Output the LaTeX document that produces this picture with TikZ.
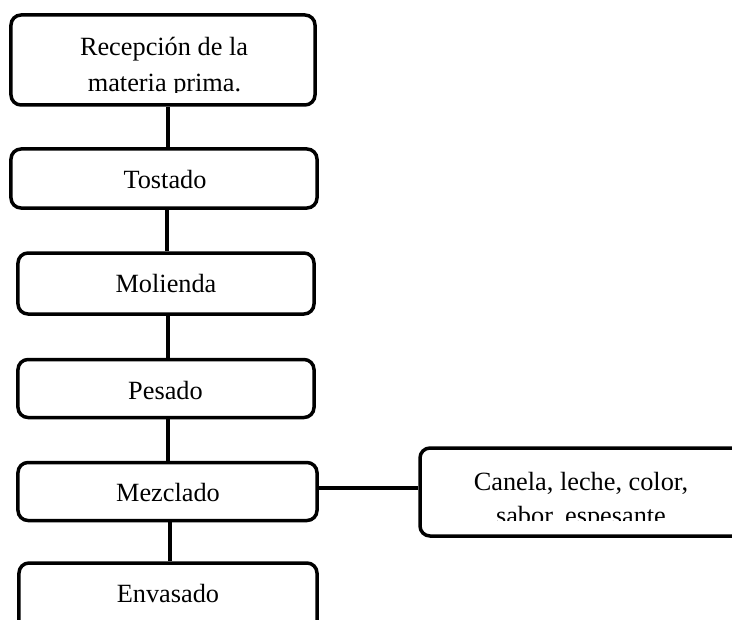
\documentclass[tikz,border=0pt]{standalone}
\usepackage{fontspec}
\setmainfont{Liberation Serif}
\begin{document}
\begin{tikzpicture}[x=1bp,y=-1bp,
  box/.style={draw=black,line width=3.5bp,rounded corners=10bp,inner sep=0pt,fill=white,
    font=\fontsize{26.3bp}{30bp}\selectfont},
  txt/.style={inner sep=0pt,anchor=base,font=\fontsize{26.3bp}{30bp}\selectfont},
  link/.style={draw=black,line width=3.5bp}]
\clip (0,0) rectangle (732,620);
\useasboundingbox (0,0) rectangle (732,620);
\coordinate (c1) at (168,0);
\coordinate (c2) at (167,0);
\coordinate (c3) at (168,0);
\coordinate (c4) at (168,0);
\coordinate (c5) at (170,0);
% boxes
\node[box,minimum width=304bp,minimum height=90bp] (rec) at (163,60) {};
\node[box,minimum width=306bp,minimum height=59bp] (tos) at (164,178.5) {};
\node[box,minimum width=296bp,minimum height=61bp] (mol) at (166,283.5) {};
\node[box,minimum width=296bp,minimum height=58bp] (pes) at (166,388.5) {};
\node[box,minimum width=299bp,minimum height=58bp] (mez) at (167.5,491.5) {};
\node[box,minimum width=298bp,minimum height=78bp] (env) at (168,602) {};
\node[box,minimum width=339bp,minimum height=88bp] (ing) at (589.5,492) {};
% box texts
\node[txt] (tost) at (165,189) {Tostado};
\node[txt] (molt) at (166,292) {Molienda};
\node[txt] (pest) at (165.5,399) {Pesado};
\node[txt] (mezt) at (168,501) {Mezclado};
\node[txt] (envt) at (168,602) {Envasado};
% connectors
\draw[link] (rec.south -| c1) -- (tos.north -| c1);
\draw[link] (tos.south -| c2) -- (mol.north -| c2);
\draw[link] (mol.south -| c3) -- (pes.north -| c3);
\draw[link] (pes.south -| c4) -- (mez.north -| c4);
\draw[link] (mez.south -| c5) -- (env.north -| c5);
\draw[link] (mez.east |- 0,488) coordinate (m1) -- (ing.west |- m1);
% clipped texts
\begin{scope}
\clip (15,20) rectangle (312,92.8);
\node[txt] (rec1) at (164,56) {Recepción de la};
\node[txt] (rec2) at (164.5,92) {materia prima.};
\end{scope}
\begin{scope}
\clip (425,452) rectangle (730,520);
\node[txt] (ing1) at (581,490) {Canela, leche, color,};
\node[txt] (ing2) at (581,524.3) {sabor, espesante};
\end{scope}
\end{tikzpicture}
\end{document}
